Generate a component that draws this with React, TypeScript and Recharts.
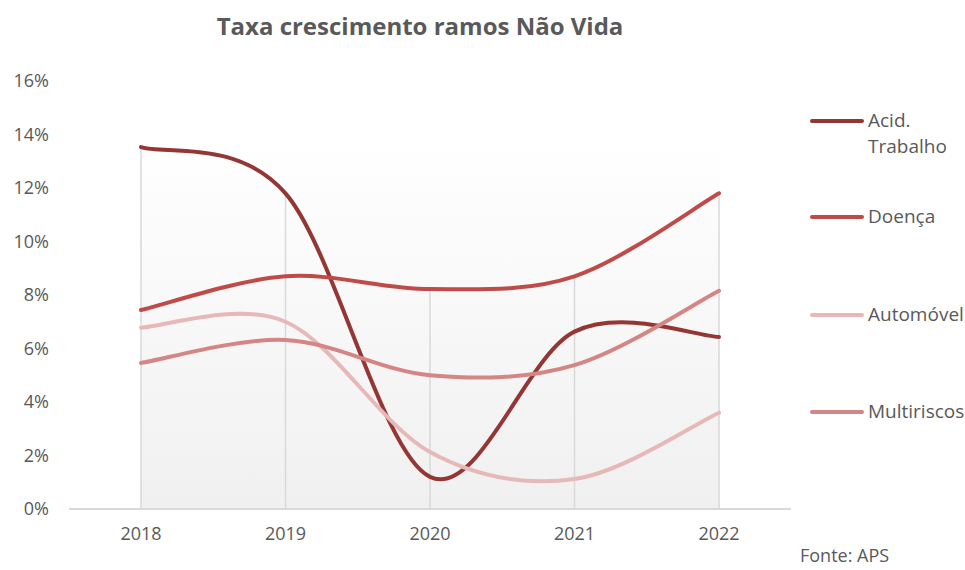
import React from "react";
import {
  LineChart,
  Line,
  XAxis,
  YAxis,
  ReferenceArea,
  ReferenceLine,
} from "recharts";

const years = ["2018", "2019", "2020", "2021", "2022"];
const acidTrabalho = [13.53, 11.8, 1.2, 6.63, 6.43];
const doenca = [7.44, 8.7, 8.22, 8.7, 11.8];
const automovel = [6.78, 7.0, 2.13, 1.12, 3.6];
const multiriscos = [5.46, 6.32, 5.0, 5.38, 8.16];
const yTicks = [0, 2, 4, 6, 8, 10, 12, 14, 16];

const series = [
  { key: "acid", name: "Acid. Trabalho", values: acidTrabalho, color: "#943634" },
  { key: "doenca", name: "Doença", values: doenca, color: "#bf4b48" },
  { key: "auto", name: "Automóvel", values: automovel, color: "#e6b9b8" },
  { key: "multi", name: "Multiriscos", values: multiriscos, color: "#d48584" },
];

const data = years.map((year, i) => {
  const row: Record<string, string | number> = { year };
  series.forEach((s) => (row[s.key] = s.values[i]));
  return row;
});

const FONT = "'Open Sans', 'Noto Sans', sans-serif";
const GREY = "#595959";

// Excel-like smoothing: cubic bezier through every point (Catmull-Rom style)
const excelSmooth = (context: any) => {
  let pts: number[][] = [];
  return {
    areaStart() {},
    areaEnd() {},
    lineStart() {
      pts = [];
    },
    point(x: number, y: number) {
      pts.push([+x, +y]);
    },
    lineEnd() {
      if (!pts.length) return;
      context.moveTo(pts[0][0], pts[0][1]);
      for (let i = 0; i < pts.length - 1; i++) {
        const p0 = pts[Math.max(i - 1, 0)];
        const p1 = pts[i];
        const p2 = pts[i + 1];
        const p3 = pts[Math.min(i + 2, pts.length - 1)];
        context.bezierCurveTo(
          p1[0] + (p2[0] - p0[0]) / 6,
          p1[1] + (p2[1] - p0[1]) / 6,
          p2[0] - (p3[0] - p1[0]) / 6,
          p2[1] - (p3[1] - p1[1]) / 6,
          p2[0],
          p2[1]
        );
      }
    },
  };
};

export default function App() {
  return (
    <div
      style={{
        position: "absolute",
        left: 0,
        top: 0,
        width: 965,
        height: 570,
        background: "#fff",
        fontFamily: FONT,
      }}
    >
      <div
        style={{
          position: "absolute",
          top: 9,
          left: 0,
          width: 840,
          textAlign: "center",
          fontSize: 24,
          fontWeight: 700,
          color: GREY,
        }}
      >
        Taxa crescimento ramos Não Vida
      </div>

      <LineChart
        width={965}
        height={570}
        data={data}
        margin={{ top: 81, right: 174, bottom: 31, left: 9 }}
      >
        <defs>
          <linearGradient id="plotBg" x1="0" y1="0" x2="0" y2="1">
            <stop offset="0%" stopColor="#ffffff" />
            <stop offset="100%" stopColor="#f0f0f0" />
          </linearGradient>
        </defs>
        <ReferenceArea y1={0} y2={13.9} fill="url(#plotBg)" fillOpacity={1} stroke="none" />
        <XAxis
          dataKey="year"
          height={30}
          padding={{ left: 72, right: 72 }}
          tickLine={false}
          tickSize={0}
          tickMargin={18}
          axisLine={{ stroke: "#d9d9d9", strokeWidth: 2 }}
          tick={{ fill: GREY, fontSize: 18, fontFamily: FONT }}
        />
        <YAxis
          width={60}
          domain={[0, 16]}
          ticks={yTicks}
          tickFormatter={(v: number) => `${v}%`}
          axisLine={false}
          tickLine={false}
          tickSize={0}
          tickMargin={20}
          tick={{ fill: GREY, fontSize: 18, fontFamily: FONT }}
        />
        {years.map((year, i) => (
          <ReferenceLine
            key={year}
            segment={[
              { x: year, y: 0 },
              { x: year, y: Math.max(...series.map((s) => s.values[i])) },
            ]}
            stroke="#d9d9d9"
            strokeWidth={1.5}
          />
        ))}
        {series.map((s) => (
          <Line
            key={s.key}
            dataKey={s.key}
            name={s.name}
            type={excelSmooth as any}
            stroke={s.color}
            strokeWidth={4}
            strokeLinecap="round"
            dot={false}
            activeDot={false}
            isAnimationActive={false}
          />
        ))}
      </LineChart>

      {series.map((s, i) => {
        const centers = [121, 217, 315, 412];
        const words = s.key === "acid" ? ["Acid.", "Trabalho"] : [s.name];
        return (
          <div
            key={s.key}
            style={{
              position: "absolute",
              left: 810,
              top: centers[i] - 13,
              display: "flex",
              alignItems: "flex-start",
            }}
          >
            <div
              style={{
                width: 54,
                height: 4,
                marginTop: 11,
                borderRadius: 2,
                background: s.color,
              }}
            />
            <div
              style={{
                marginLeft: 4,
                fontSize: 19,
                lineHeight: "26px",
                color: GREY,
                marginTop: -1,
              }}
            >
              {words.map((w) => (
                <div key={w}>{w}</div>
              ))}
            </div>
          </div>
        );
      })}

      <div
        style={{
          position: "absolute",
          left: 800,
          top: 543,
          fontSize: 18,
          color: GREY,
        }}
      >
        Fonte: APS
      </div>
    </div>
  );
}
